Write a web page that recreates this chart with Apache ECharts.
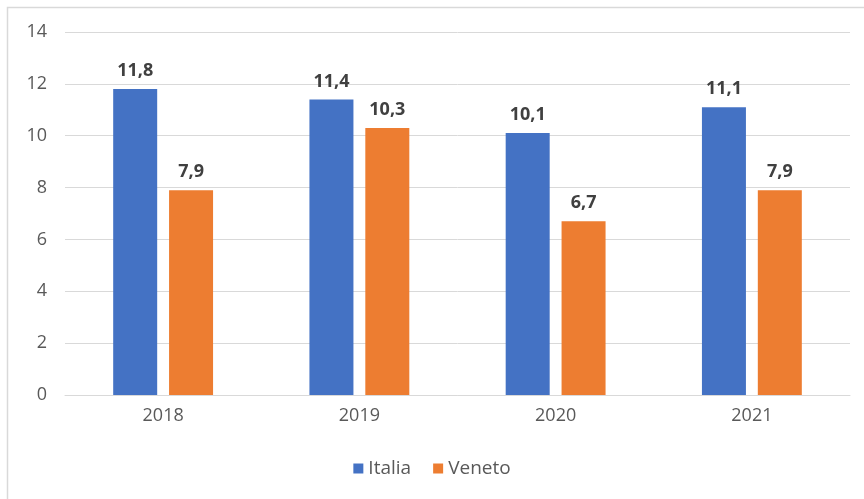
<!DOCTYPE html>
<html><head><meta charset="utf-8">
<script src="https://cdn.jsdelivr.net/npm/echarts@6/dist/echarts.min.js"></script>
<style>html,body{margin:0;padding:0;background:#fff}#c{width:864px;height:499px}</style>
</head><body><div id="c"></div>
<script>
const categories = ['2018', '2019', '2020', '2021'];
const italia = [11.8, 11.4, 10.1, 11.1];
const veneto = [7.9, 10.3, 6.7, 7.9];
const yTicks = [0, 2, 4, 6, 8, 10, 12, 14];

const chart = echarts.init(document.getElementById('c'));
const lbl = {
  show: true, position: 'top', distance: 9,
  formatter: p => String(p.value).replace('.', ','),
  fontFamily: 'Open Sans, sans-serif', fontWeight: 'bold', fontSize: 18, color: '#404040'
};
chart.setOption({
  animation: false,
  graphic: [{ type: 'rect', shape: { x: 7.5, y: 7.5, width: 870, height: 500 },
    style: { fill: 'none', stroke: '#d9d9d9', lineWidth: 1.5 } }],
  grid: { left: 65, right: 14, top: 32, bottom: 104, containLabel: false },
  legend: { bottom: 16, left: 'center', itemWidth: 10, itemHeight: 10, itemGap: 22, icon: 'rect',
    textStyle: { fontFamily: 'Open Sans, sans-serif', fontSize: 19, color: '#595959' },
    data: ['Italia', 'Veneto'] },
  xAxis: { type: 'category', data: categories,
    axisLine: { lineStyle: { color: '#d9d9d9', width: 1 } }, axisTick: { show: false },
    axisLabel: { margin: 12, fontFamily: 'Open Sans, sans-serif', fontSize: 18, color: '#595959' } },
  yAxis: { type: 'value', min: 0, max: 14, interval: 2,
    axisLine: { show: false }, axisTick: { show: false },
    splitLine: { lineStyle: { color: '#d9d9d9', width: 1 } },
    axisLabel: { margin: 18, fontFamily: 'Open Sans, sans-serif', fontSize: 18, color: '#595959',
      formatter: v => yTicks.includes(v) ? String(v) : '' } },
  series: [
    { name: 'Italia', type: 'bar', data: italia, barWidth: 44, barGap: '27%', itemStyle: { color: '#4472c4' }, label: lbl },
    { name: 'Veneto', type: 'bar', data: veneto, barWidth: 44, itemStyle: { color: '#ed7d31' }, label: lbl }
  ]
});
</script></body></html>
